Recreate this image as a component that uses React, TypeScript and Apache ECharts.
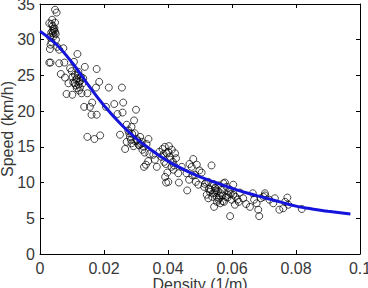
import React, { useEffect, useRef } from "react";
import * as echarts from "echarts";

const scatterDensity = [
  0.0047, 0.0052, 0.0029, 0.0036, 0.0047, 0.0040, 0.0042, 0.0047, 0.0040, 0.0044,
  0.0031, 0.0036, 0.0033, 0.0031, 0.0054, 0.0060, 0.0073, 0.0029, 0.0033, 0.0060,
  0.0076, 0.0065, 0.0078, 0.0089, 0.0083, 0.0101, 0.0094, 0.0106, 0.0117, 0.0102,
  0.0113, 0.0120, 0.0125, 0.0130, 0.0115, 0.0140, 0.0135, 0.0148, 0.0138, 0.0156,
  0.0161, 0.0177, 0.0148, 0.0170, 0.0188, 0.0177, 0.0185, 0.0175, 0.0163, 0.0206,
  0.0215, 0.0232, 0.0256, 0.0260, 0.0242, 0.0258, 0.0300, 0.0250, 0.0266, 0.0271,
  0.0276, 0.0286, 0.0294, 0.0281, 0.0271, 0.0286, 0.0292, 0.0302, 0.0313, 0.0318,
  0.0323, 0.0308, 0.0333, 0.0339, 0.0342, 0.0325, 0.0331, 0.0338, 0.0354, 0.0359,
  0.0365, 0.0373, 0.0383, 0.0390, 0.0380, 0.0396, 0.0401, 0.0406, 0.0408, 0.0393,
  0.0398, 0.0394, 0.0401, 0.0391, 0.0411, 0.0417, 0.0422, 0.0425, 0.0432, 0.0434,
  0.0443, 0.0458, 0.0460, 0.0467, 0.0474, 0.0479, 0.0484, 0.0490, 0.0498, 0.0505,
  0.0487, 0.0495, 0.0513, 0.0519, 0.0526, 0.0536, 0.0542, 0.0547, 0.0531, 0.0521,
  0.0526, 0.0540, 0.0550, 0.0552, 0.0557, 0.0565, 0.0568, 0.0573, 0.0578, 0.0583,
  0.0544, 0.0563, 0.0575, 0.0581, 0.0588, 0.0594, 0.0599, 0.0604, 0.0604, 0.0594,
  0.0609, 0.0617, 0.0625, 0.0635, 0.0644, 0.0656, 0.0665, 0.0669, 0.0682, 0.0685,
  0.0677, 0.0690, 0.0698, 0.0703, 0.0717, 0.0729, 0.0734, 0.0748, 0.0760, 0.0766,
  0.0773, 0.0776, 0.0818, 0.0703, 0.0099, 0.0109, 0.0115, 0.0123, 0.0127, 0.0120,
  0.0133, 0.0104, 0.0038, 0.0043, 0.0035, 0.0050, 0.0534, 0.0556, 0.0560, 0.0570,
  0.0548, 0.0590, 0.0515, 0.0528, 0.0296, 0.0304, 0.0320, 0.0288, 0.0310, 0.0415,
  0.0045, 0.0039, 0.0049, 0.0112, 0.0118, 0.0108, 0.0128, 0.0122, 0.0279, 0.0284,
  0.0298, 0.0316, 0.0327, 0.0386, 0.0403, 0.0412, 0.0388, 0.0419, 0.0538, 0.0545,
  0.0553, 0.0562, 0.0571, 0.0586, 0.0596, 0.0558, 0.0611, 0.0621, 0.0466, 0.0476,
];
const scatterSpeed = [
  34.2, 33.8, 32.3, 32.2, 32.4, 31.9, 31.5, 31.1, 30.9, 31.3,
  30.4, 29.7, 29.3, 28.7, 29.0, 28.6, 28.8, 26.8, 26.8, 26.7,
  26.8, 25.2, 24.7, 23.9, 22.4, 22.3, 26.0, 26.9, 28.0, 24.8,
  24.4, 23.7, 23.3, 22.5, 23.2, 26.2, 24.6, 22.5, 20.6, 20.6,
  19.5, 19.5, 16.4, 16.1, 16.6, 25.9, 24.1, 23.3, 21.2, 20.6,
  23.3, 21.0, 23.3, 21.2, 19.6, 19.8, 20.2, 16.7, 14.7, 18.1,
  17.3, 17.8, 18.7, 16.4, 15.7, 15.5, 15.1, 16.1, 16.4, 15.7,
  15.0, 15.3, 15.4, 16.1, 14.0, 12.2, 12.5, 13.0, 13.9, 13.2,
  12.2, 14.3, 14.7, 15.0, 13.6, 14.1, 14.3, 13.6, 13.2, 12.6,
  11.4, 10.0, 10.1, 10.8, 12.2, 11.8, 14.1, 13.4, 11.3, 10.0,
  12.2, 11.3, 8.9, 12.6, 12.2, 13.3, 11.1, 12.5, 11.7, 11.4,
  10.1, 9.7, 9.4, 10.0, 10.1, 12.4, 9.8, 9.3, 8.7, 8.3,
  7.8, 8.5, 8.9, 8.0, 7.6, 8.5, 9.0, 9.9, 10.0, 9.4,
  6.6, 7.1, 7.3, 8.0, 8.3, 9.0, 7.6, 8.3, 9.7, 5.3,
  6.9, 7.6, 8.6, 7.8, 7.0, 6.6, 8.5, 7.6, 6.2, 5.3,
  7.1, 7.8, 8.0, 8.5, 7.6, 7.1, 7.8, 6.2, 6.4, 7.3,
  7.9, 6.9, 6.3, 8.2, 25.6, 25.1, 24.6, 24.1, 24.3, 25.5,
  23.9, 24.0, 32.8, 30.5, 31.0, 30.0, 9.0, 8.8, 7.8, 8.2,
  9.2, 8.7, 9.8, 9.1, 16.9, 15.9, 14.6, 16.8, 15.2, 12.9,
  31.6, 31.2, 30.8, 23.6, 25.0, 23.9, 24.8, 22.9, 16.9, 16.0,
  15.8, 15.4, 14.2, 14.0, 15.1, 14.6, 12.9, 12.4, 8.0, 8.6,
  7.3, 8.2, 7.4, 7.9, 8.4, 9.6, 8.0, 7.3, 10.4, 11.0,
];

// Fitted curve
const fitDensity = [
  0, 0.005, 0.01, 0.0125, 0.015, 0.02, 0.025, 0.03, 0.035, 0.04, 0.045,
  0.05, 0.055, 0.06, 0.065, 0.07, 0.075, 0.08, 0.085, 0.09, 0.097,
];
const fitSpeed = [
  31.2, 29.4, 26.8, 25.3, 23.7, 20.8, 18.3, 16.2, 14.5, 13.0, 11.8,
  10.8, 10.0, 9.2, 8.5, 7.9, 7.3, 6.7, 6.3, 6.0, 5.6,
];

const xTickLabels = ["0", "0.02", "0.04", "0.06", "0.08", "0.1"];
const yTickLabels = ["0", "5", "10", "15", "20", "25", "30", "35"];

const xName = "Density (1/m)";
const yName = "Speed (km/h)";

export default function App() {
  const ref = useRef<HTMLDivElement>(null);
  useEffect(() => {
    if (!ref.current) return;
    const chart = echarts.init(ref.current, null, { renderer: "svg" });
    const font = "'Liberation Sans', Arial, Helvetica, sans-serif";
    const textColor = "#383838";
    const scatterData = scatterDensity.map((d, i) => [d, scatterSpeed[i]]);
    const fitData = fitDensity.map((d, i) => [d, fitSpeed[i]]);
    const axisCommon = {
      min: 0,
      axisLine: { show: true, onZero: false, lineStyle: { color: "#000", width: 1 } },
      axisTick: { show: true, inside: true, length: 4, lineStyle: { color: "#000" } },
      splitLine: { show: false },
    };
    chart.setOption({
      animation: false,
      backgroundColor: "#fff",
      grid: {
        left: 40,
        top: 4,
        right: 8,
        bottom: 34,
        containLabel: false,
        outerBoundsMode: "none",
      },
      xAxis: [
        {
          ...axisCommon,
          type: "value",
          position: "bottom",
          max: 0.1,
          interval: 0.02,
          name: xName,
          nameLocation: "middle",
          nameGap: 22,
          nameMoveOverlap: false,
          nameTextStyle: { fontFamily: font, fontSize: 16, color: textColor, verticalAlign: "top" },
          axisLabel: {
            fontFamily: font,
            fontSize: 16,
            color: textColor,
            margin: 6,
            showMinLabel: true,
            showMaxLabel: true,
            formatter: (v: number) => xTickLabels[Math.round(v / 0.02)] ?? "",
          },
        },
        {
          ...axisCommon,
          type: "value",
          position: "top",
          max: 0.1,
          interval: 0.02,
          axisLabel: { show: false },
        },
      ],
      yAxis: [
        {
          ...axisCommon,
          type: "value",
          position: "left",
          max: 35,
          interval: 5,
          name: yName,
          nameLocation: "middle",
          nameGap: 25,
          nameMoveOverlap: false,
          nameRotate: 90,
          nameTextStyle: { fontFamily: font, fontSize: 16, color: textColor, verticalAlign: "bottom" },
          axisLabel: {
            fontFamily: font,
            fontSize: 16,
            color: textColor,
            margin: 5,
            showMinLabel: true,
            showMaxLabel: true,
            formatter: (v: number) => yTickLabels[Math.round(v / 5)] ?? "",
          },
        },
        {
          ...axisCommon,
          type: "value",
          position: "right",
          max: 35,
          interval: 5,
          axisLabel: { show: false },
        },
      ],
      series: [
        {
          type: "scatter",
          data: scatterData,
          symbol: "circle",
          symbolSize: 7,
          itemStyle: { color: "rgba(0,0,0,0)", borderColor: "#000", borderWidth: 0.9 },
          z: 2,
        },
        {
          type: "line",
          data: fitData,
          smooth: true,
          symbol: "none",
          lineStyle: { color: "#1414dc", width: 3 },
          z: 3,
        },
      ],
    });
    return () => chart.dispose();
  }, []);
  return <div ref={ref} style={{ width: 368, height: 288, position: "absolute", left: 0, top: 0 }} />;
}
